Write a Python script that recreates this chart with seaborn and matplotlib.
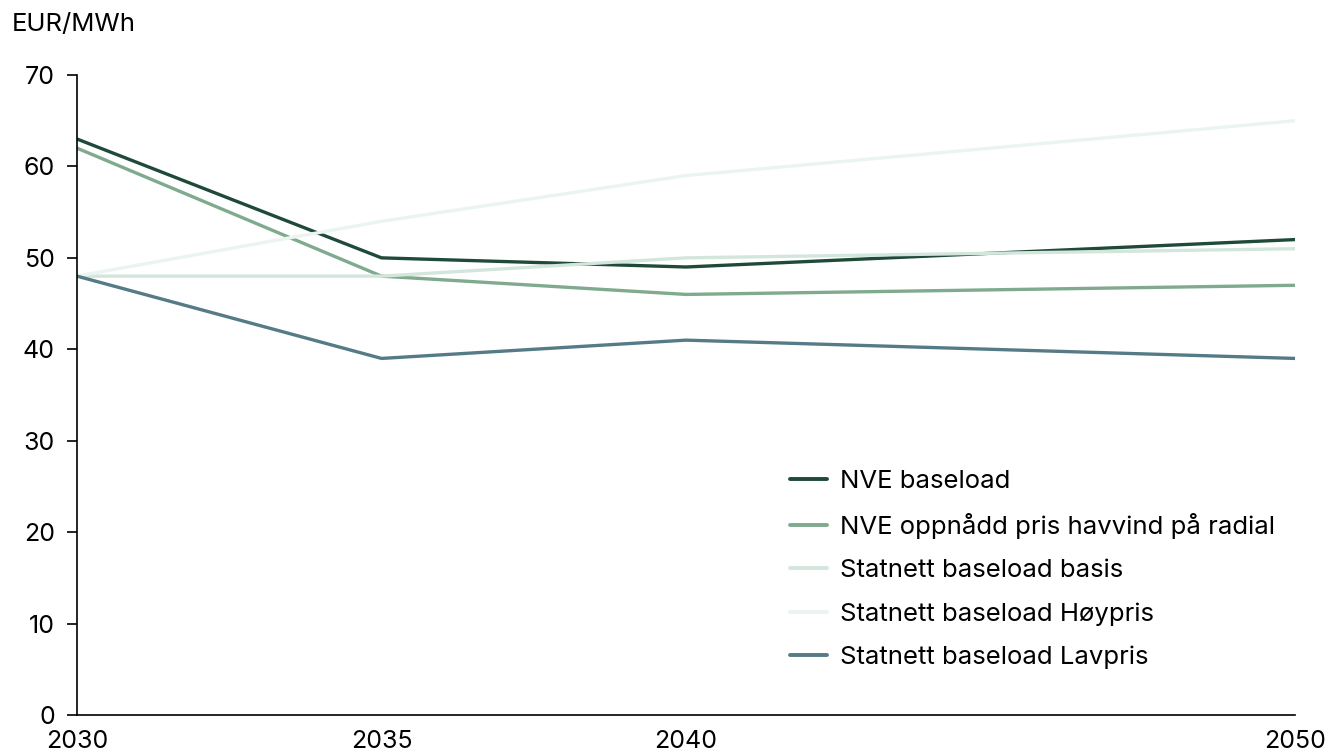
import matplotlib
matplotlib.use("Agg")
import matplotlib.pyplot as plt
import seaborn as sns
import pandas as pd

years = [2030, 2035, 2040, 2050]
nve_baseload = [63, 50, 49, 52]
nve_oppnadd = [62, 48, 46, 47]
statnett_basis = [48, 48, 50, 51]
statnett_hoy = [48, 54, 59, 65]
statnett_lav = [48, 39, 41, 39]

series_names = ["NVE baseload", "NVE oppnådd pris havvind på radial",
                "Statnett baseload basis", "Statnett baseload Høypris",
                "Statnett baseload Lavpris"]
colors = ["#1f4a3a", "#7faa8e", "#d3e6dc", "#eaf5ef", "#557b87"]

df = pd.concat([
    pd.DataFrame({"year": years, "value": v, "series": n})
    for n, v in zip(series_names,
                    [nve_baseload, nve_oppnadd, statnett_basis, statnett_hoy, statnett_lav])
])

sns.set_theme(style="white")
plt.rcParams["font.family"] = ["Inter", "DejaVu Sans"]
plt.rcParams["text.color"] = "black"
plt.rcParams["xtick.color"] = "black"
plt.rcParams["ytick.color"] = "black"

fig = plt.figure(figsize=(13.29, 7.54), dpi=100)
ax = fig.add_axes([77/1329, 39/754, (1295-77)/1329, (715-75)/754])

sns.lineplot(data=df, x="year", y="value", hue="series", hue_order=series_names,
             palette=colors, linewidth=2.4, ax=ax)

ax.set_xlim(2030, 2050)
ax.set_ylim(0, 70)
ax.set_xticks(years)
ax.set_xticklabels([str(y) for y in years], fontsize=18)
ax.set_yticks(range(0, 71, 10))
ax.set_yticklabels([str(v) for v in range(0, 71, 10)], fontsize=18)
ax.tick_params(axis="y", direction="out", length=7, width=1.2, color="black", pad=9, left=True)
ax.tick_params(axis="x", length=0, pad=11)
ax.set_xlabel("")
ax.set_ylabel("")
for s in ["top", "right"]:
    ax.spines[s].set_visible(False)
for s in ["left", "bottom"]:
    ax.spines[s].set_color("black")
    ax.spines[s].set_linewidth(1.2)

fig.text(12/1329, 1 - 24/754, "EUR/MWh", fontsize=18.5, va="center", ha="left")

leg = ax.legend(loc="upper left", bbox_to_anchor=((790-77)/1218, (715-470)/640),
                frameon=False, borderpad=0, borderaxespad=0,
                fontsize=18.5, handlelength=1.45, handletextpad=0.5, labelspacing=0.78)
for line in leg.get_lines():
    line.set_linewidth(2.8)

fig.savefig("out.png", dpi=100)
